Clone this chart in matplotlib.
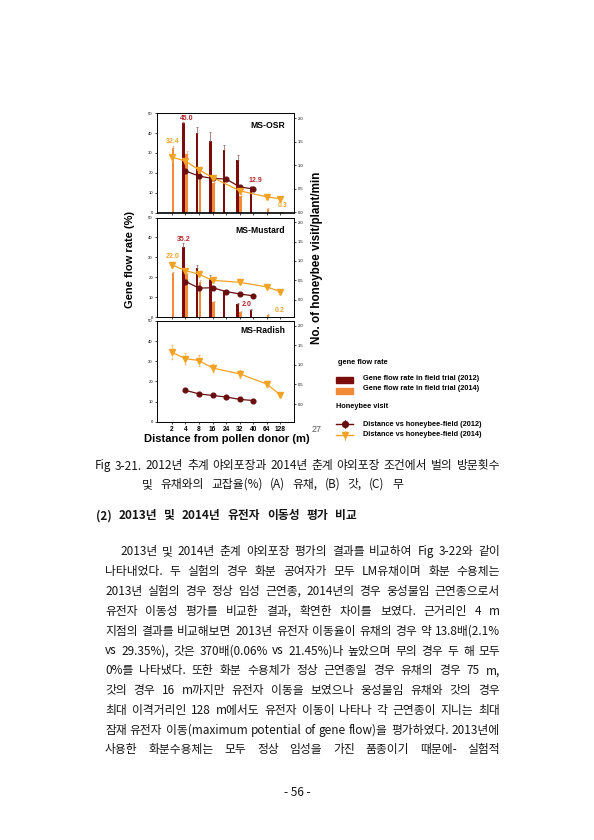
import numpy as np
import matplotlib
matplotlib.use('Agg')
import matplotlib.pyplot as plt
from matplotlib.patches import Rectangle

plt.rcParams['font.family'] = ['Liberation Sans', 'DejaVu Sans']
KR = ['Noto Sans CJK KR', 'DejaVu Sans']

# distances (categorical x axis)
dist = ['2', '4', '8', '16', '24', '32', '40', '64', '128']
d2012 = ['4', '8', '16', '24', '32', '40']
d2014 = ['2', '4', '8', '16', '32', '64', '128']

# MS-OSR
osr_gf12 = [45.0, 40.0, 35.8, 31.7, 26.4, 12.9]
osr_gf12_err = [0.6, 3.2, 4.9, 2.2, 2.5, 0.6]
osr_gf14 = [32.4, 29.7, 22.0, 14.7, 8.1, 2.0, 0.3]
osr_gf14_err = [1.0, 1.2, 0.8, 0.7, 1.0, 0.5, 0.0]
osr_bee12 = [0.88, 0.77, 0.72, 0.71, 0.54, 0.50]
osr_bee12_err = [0.03, 0.03, 0.03, 0.03, 0.03, 0.03]
osr_bee14 = [1.17, 1.09, 0.90, 0.74, 0.46, 0.33, 0.29]
osr_bee14_err = [0.07, 0.05, 0.04, 0.03, 0.04, 0.04, 0.03]

# MS-Mustard
mus_gf12 = [35.2, 24.9, 19.1, 13.0, 6.4, 3.5]
mus_gf12_err = [1.8, 1.5, 2.2, 0.5, 0.5, 0.6]
mus_gf14 = [22.0, 21.9, 17.7, 7.4, 2.5, 1.2, 0.2]
mus_gf14_err = [0.6, 0.5, 0.8, 0.6, 0.4, 0.2, 0.0]
mus_bee12 = [0.47, 0.30, 0.31, 0.21, 0.15, 0.10]
mus_bee12_err = [0.03, 0.03, 0.03, 0.02, 0.02, 0.02]
mus_bee14 = [0.90, 0.75, 0.66, 0.50, 0.45, 0.33, 0.21]
mus_bee14_err = [0.05, 0.04, 0.04, 0.04, 0.04, 0.04, 0.03]

# MS-Radish (no gene flow)
rad_bee12 = [0.35, 0.26, 0.22, 0.18, 0.12, 0.09]
rad_bee12_err = [0.02, 0.02, 0.02, 0.02, 0.02, 0.02]
rad_bee14 = [1.32, 1.16, 1.11, 0.92, 0.77, 0.51, 0.23]
rad_bee14_err = [0.18, 0.15, 0.15, 0.11, 0.10, 0.07, 0.03]

# value labels (text, x index, y on left axis, colour key)
osr_notes = [('45.0', 1.1, 47.3, 'r'), ('32.4', 0.08, 35.9, 'o'),
             ('12.9', 6.15, 15.9, 'r'), ('0.3', 8.13, 3.3, 'o')]
mus_notes = [('35.2', 0.86, 39.1, 'r'), ('22.0', 0.08, 30.6, 'o'),
             ('2.0', 5.54, 6.6, 'r'), ('0.2', 7.98, 3.3, 'o')]

caption = ['Fig 3-21. 2012년 추계 야외포장과 2014년 춘계 야외포장 조건에서 벌의 방문횟수',
           '및 유채와의 교잡율(%) (A) 유채, (B) 갓, (C) 무']
heading = '(2) 2013년 및 2014년 유전자 이동성 평가 비교'
body = ['2013년 및 2014년 춘계 야외포장 평가의 결과를 비교하여 Fig 3-22와 같이',
        '나타내었다. 두 실험의 경우 화분 공여자가 모두 LM유채이며 화분 수용체는',
        '2013년 실험의 경우 정상 임성 근연종, 2014년의 경우 웅성불임 근연종으로서',
        '유전자 이동성 평가를 비교한 결과, 확연한 차이를 보였다. 근거리인 4 m',
        '지점의 결과를 비교해보면 2013년 유전자 이동율이 유채의 경우 약 13.8배(2.1%',
        'vs 29.35%), 갓은 370배(0.06% vs 21.45%)나 높았으며 무의 경우 두 해 모두',
        '0%를 나타냈다. 또한 화분 수용체가 정상 근연종일 경우 유채의 경우 75 m,',
        '갓의 경우 16 m까지만 유전자 이동을 보였으나 웅성불임 유채와 갓의 경우',
        '최대 이격거리인 128 m에서도 유전자 이동이 나타나 각 근연종이 지니는 최대',
        '잠재 유전자 이동(maximum potential of gene flow)을 평가하였다. 2013년에',
        '사용한 화분수용체는 모두 정상 임성을 가진 품종이기 때문에- 실험적']

DARK = '#7a0c0c'
DARK_LINE = '#6a0f10'
OR_BAR = '#f28a38'
OR_LINE = '#f4a223'
RED_TXT = '#b3262b'
OR_TXT = '#f0a630'

W, H = 594, 840
fig = plt.figure(figsize=(W / 100, H / 100), dpi=100)
page = fig.add_axes([0, 0, 1, 1])
page.set_xlim(0, W)
page.set_ylim(H, 0)
page.axis('off')


def box(l, t, r, b):
    return [l / W, 1 - b / H, (r - l) / W, (b - t) / H]


def panel(rect, name, name_y, gf12, gf12e, gf14, gf14e, b12, b12e, b14, b14e, rlim, show_x, notes):
    ax = fig.add_axes(rect)
    x12 = np.array([dist.index(d) for d in d2012])
    x14 = np.array([dist.index(d) for d in d2014])
    ek = dict(elinewidth=0.5, capsize=1.0, capthick=0.5)
    if gf12 is not None:
        ax.bar(x12 - 0.16, gf12, 0.2, color=DARK, zorder=2,
               yerr=[np.zeros(len(gf12)), gf12e], error_kw=dict(ecolor='#8a5555', **ek))
        ax.bar(x14 + 0.08, gf14, 0.2, color=OR_BAR, zorder=2,
               yerr=[np.zeros(len(gf14)), gf14e], error_kw=dict(ecolor='#e9a56a', **ek))
    ax.set_xlim(-1.1, 9.0)
    ax.set_ylim(0, 50)
    ax.set_yticks(range(0, 51, 10))
    ax.set_xticks(range(len(dist)))
    if show_x:
        ax.set_xticklabels(dist, fontsize=4.8, fontweight='bold')
    else:
        ax.set_xticklabels([])
    ax.tick_params(axis='y', labelsize=3, length=1.5, width=0.5, pad=1.5)
    ax.tick_params(axis='x', length=1.5, width=0.5, pad=1.5)
    for s in ax.spines.values():
        s.set_linewidth(0.6)
    ax.text(0.935, name_y, name, transform=ax.transAxes, ha='right', va='center',
            fontsize=6.2, fontweight='bold')
    for txt, nx, ny, c in notes:
        ax.text(nx, ny, txt, ha='center', va='center', fontsize=5, fontweight='bold',
                color=RED_TXT if c == 'r' else OR_TXT, zorder=5)

    ax2 = ax.twinx()
    ax2.errorbar(x12, b12, yerr=b12e, color=DARK_LINE, marker='o', ms=3.4, lw=0.9,
                 elinewidth=0.5, capsize=1.0, zorder=4)
    ax2.errorbar(x14, b14, yerr=b14e, color=OR_LINE, marker='v', ms=3.7, lw=0.9,
                 elinewidth=0.5, capsize=1.0, ecolor='#f6c070', zorder=4)
    ax2.set_ylim(*rlim)
    ax2.set_yticks([0, 0.5, 1.0, 1.5, 2.0])
    ax2.set_yticklabels(['0.0', '0.5', '1.0', '1.5', '2.0'])
    ax2.tick_params(axis='y', labelsize=3, length=1.5, width=0.5, pad=1.5)
    for s in ax2.spines.values():
        s.set_linewidth(0.6)
    return ax


panel(box(157, 113.3, 294, 212.5), 'MS-OSR', 0.88, osr_gf12, osr_gf12_err, osr_gf14, osr_gf14_err,
      osr_bee12, osr_bee12_err, osr_bee14, osr_bee14_err, (0, 2.1), False, osr_notes)
panel(box(157, 217.5, 294, 317.2), 'MS-Mustard', 0.87, mus_gf12, mus_gf12_err, mus_gf14, mus_gf14_err,
      mus_bee12, mus_bee12_err, mus_bee14, mus_bee14_err, (-0.45, 2.12), False, mus_notes)
panel(box(157, 321, 294, 421.7), 'MS-Radish', 0.91, None, None, None, None,
      rad_bee12, rad_bee12_err, rad_bee14, rad_bee14_err, (-0.45, 2.12), True, [])

# axis titles
page.text(130, 260, 'Gene flow rate (%)', rotation=90, ha='center', va='center',
          fontsize=8, fontweight='bold')
page.text(317, 258, 'No. of honeybee visit/plant/min', rotation=90, ha='center', va='center',
          fontsize=8.4, fontweight='bold')
page.text(227, 439, 'Distance from pollen donor (m)', ha='center', va='center',
          fontsize=8, fontweight='bold')
page.text(312, 430, '27', ha='left', va='center', fontsize=6.5, color='#555555')

# legend
page.text(338, 363, 'gene flow rate', fontsize=5.3, fontweight='bold', va='center')
page.add_patch(Rectangle((336, 376.7), 17, 6, color=DARK))
page.add_patch(Rectangle((336, 388.3), 17, 6, color=OR_BAR))
page.text(363, 379, 'Gene flow rate in field trial (2012)', fontsize=5.3, fontweight='bold', va='center')
page.text(363, 389, 'Gene flow rate in field trial (2014)', fontsize=5.3, fontweight='bold', va='center')
page.text(336, 406.7, 'Honeybee visit', fontsize=5.3, fontweight='bold', va='center')
page.plot([336, 353], [424, 424], color=DARK_LINE, lw=1)
page.plot([344.5, 344.5], [420, 428], color=DARK_LINE, lw=0.6)
page.plot([344.5], [424], marker='o', ms=4.2, color=DARK_LINE)
page.plot([336, 353], [435, 435], color=OR_LINE, lw=1)
page.plot([344.5, 344.5], [431, 440], color=OR_LINE, lw=0.6)
page.plot([344.5], [435], marker='v', ms=4.4, color=OR_LINE)
page.text(363, 424.3, 'Distance vs honeybee-field (2012)', fontsize=5.3, fontweight='bold', va='center')
page.text(363, 434.5, 'Distance vs honeybee-field (2014)', fontsize=5.3, fontweight='bold', va='center')

# page text
rend = fig.canvas.get_renderer()


def put_line(s, y, x0, x1, **kw):
    # spread the words so the line runs from x0 to x1
    words = s.split(' ')
    objs = [page.text(x0, y, w, ha='left', va='center', family=KR, **kw) for w in words]
    widths = [o.get_window_extent(rend).width for o in objs]
    sp = (x1 - x0 - sum(widths)) / (len(words) - 1)
    x = x0
    for o, w in zip(objs, widths):
        o.set_x(x)
        x += w + sp


tk = dict(fontsize=8.5, color='#151515')
put_line(caption[0], 466, 95, 500, **tk)
put_line(caption[1], 484.5, 142, 403, **tk)
put_line(heading, 516, 96, 357, fontweight='bold', **tk)
for i, line in enumerate(body):
    x0 = 120 if i == 0 else 105
    put_line(line, 552 + 19.8 * i, x0, 500, **tk)
page.text(297, 793, '- 56 -', ha='center', va='center', family=KR, **tk)

fig.savefig('out.png', dpi=100)
